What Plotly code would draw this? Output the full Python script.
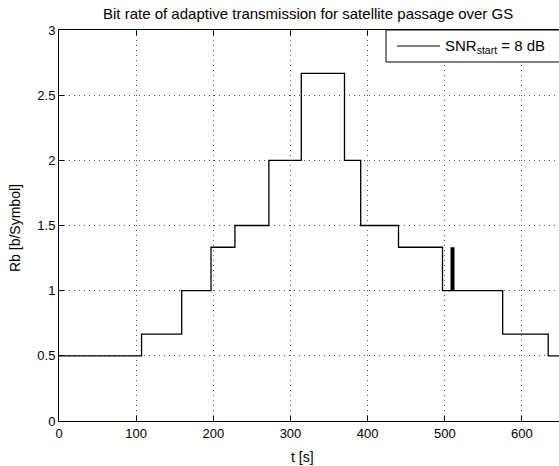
import plotly.graph_objects as go

# ---- data ----
t_steps = [0, 107, 159, 197, 228, 272, 314, 370, 391, 440, 497, 575, 634, 648]
rb_levels = [0.5, 0.667, 1.0, 1.333, 1.5, 2.0, 2.667, 2.0, 1.5, 1.333, 1.0, 0.667, 0.5, 0.5]
marker_t = [510, 510]
marker_rb = [1.0, 1.333]
x_ticks = [0, 100, 200, 300, 400, 500, 600]
y_ticks = [0, 0.5, 1, 1.5, 2, 2.5, 3]
y_ticktext = ["0", "0.5", "1", "1.5", "2", "2.5", "3"]
legend_label = "SNR<sub>start</sub> = 8 dB"
title_text = "Bit rate of adaptive transmission for satellite passage over GS"

W, H = 559, 466
L, R, T, B = 59, 0, 30, 45
pw, ph = W - L - R, H - T - B

def px(xp):
    return (xp - L) / pw

def py(yp):
    return (H - B - yp) / ph

FONT = "Liberation Sans, Arial, Helvetica, sans-serif"
FS = 13

fig = go.Figure()
fig.add_trace(go.Scatter(x=t_steps, y=rb_levels, mode="lines", line_shape="hv",
                         line=dict(color="black", width=1.3), showlegend=False))
fig.add_trace(go.Scatter(x=marker_t, y=marker_rb, mode="lines",
                         line=dict(color="black", width=4), showlegend=False))

axis_common = dict(ticks="inside", ticklen=5, tickcolor="black", showline=True,
                   linecolor="black", linewidth=1, showgrid=True, gridcolor="#555",
                   griddash="1px,4px", gridwidth=1, zeroline=False,
                   tickfont=dict(family=FONT, size=FS, color="black"))

fig.update_layout(
    width=W, height=H,
    margin=dict(l=L, r=R, t=T, b=B),
    paper_bgcolor="white", plot_bgcolor="white",
    font=dict(family=FONT, size=FS, color="black"),
    xaxis=dict(range=[0, 648], tickvals=x_ticks, mirror="ticks", **axis_common),
    yaxis=dict(range=[0, 3], tickvals=y_ticks, ticktext=y_ticktext, mirror=False, **axis_common),
    showlegend=False,
)

# title and axis labels
fig.add_annotation(text=title_text, xref="paper", yref="paper", x=px(308), y=py(13),
                   xanchor="center", yanchor="middle", showarrow=False,
                   font=dict(family=FONT, size=15, color="black"))
fig.add_annotation(text="t [s]", xref="paper", yref="paper", x=px(302), y=py(457),
                   xanchor="center", yanchor="middle", showarrow=False,
                   font=dict(family=FONT, size=14, color="black"))
fig.add_annotation(text="Rb [b/Symbol]", xref="paper", yref="paper", x=px(15), y=py(228),
                   xanchor="center", yanchor="middle", showarrow=False, textangle=-90,
                   font=dict(family=FONT, size=14, color="black"))

# legend box (extends past the right edge, as in the reference)
fig.add_shape(type="rect", xref="paper", yref="paper", x0=px(386), x1=px(600),
              y0=py(62), y1=py(30), line=dict(color="black", width=1),
              fillcolor="white", layer="above")
fig.add_shape(type="line", xref="paper", yref="paper", x0=px(397), x1=px(440),
              y0=py(46), y1=py(46), line=dict(color="black", width=1), layer="above")
fig.add_annotation(text=legend_label, xref="paper", yref="paper", x=px(443), y=py(47),
                   xanchor="left", yanchor="middle", showarrow=False,
                   font=dict(family=FONT, size=15, color="black"))

fig.write_html("out.html", config={"displayModeBar": False},
               post_script="document.body.style.margin='0';document.body.style.overflow='hidden';")
